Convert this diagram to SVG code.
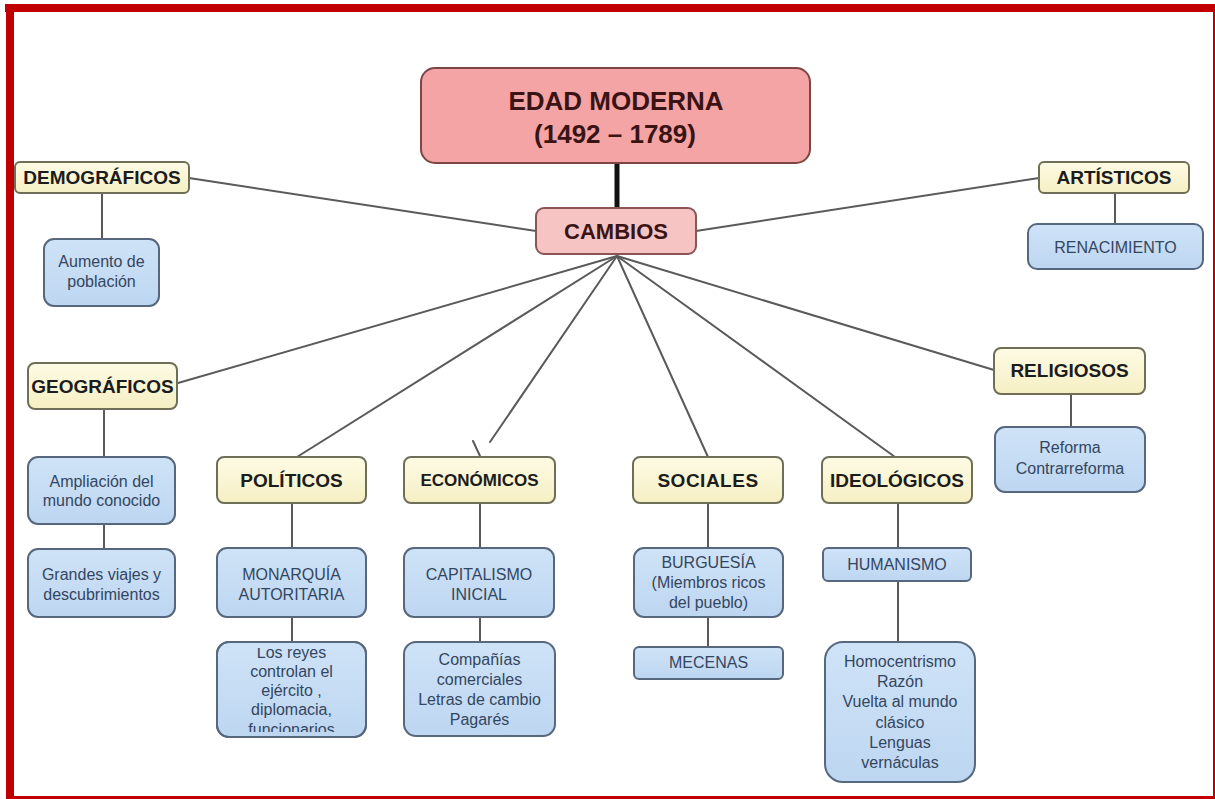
<svg xmlns="http://www.w3.org/2000/svg" width="1215" height="799" viewBox="0 0 1215 799">
<defs>
<linearGradient id="gY" x1="0" y1="0" x2="0" y2="1"><stop offset="0" stop-color="#fdfbe4"/><stop offset="1" stop-color="#f6efc4"/></linearGradient>
<linearGradient id="gB" x1="0" y1="0" x2="0" y2="1"><stop offset="0" stop-color="#cfe3f7"/><stop offset="1" stop-color="#bdd6f1"/></linearGradient>
<clipPath id="clipReyes"><rect x="218" y="648" width="147" height="84"/></clipPath>
<style>
.cat rect{fill:url(#gY);stroke:#6f6f58;stroke-width:2}
.cat text{font-family:"Liberation Sans",Arial,sans-serif;font-weight:bold;font-size:19px;fill:#1c1c1c;text-anchor:middle}
.leaf rect{fill:url(#gB);stroke:#56677e;stroke-width:2}
.leaf text{font-family:"Liberation Sans",Arial,sans-serif;font-size:16px;fill:#34465f;text-anchor:middle}
.conn line{stroke:#5a5a5a;stroke-width:2;stroke-linecap:round}
.title text{font-family:"Liberation Sans",Arial,sans-serif;font-weight:bold;fill:#3a1414;text-anchor:middle}
</style>
</defs>
<rect x="0" y="0" width="1215" height="799" fill="#ffffff"/>
<g id="frame" fill="#c00000">
<rect x="5" y="4" width="1210" height="8"/>
<rect x="6" y="4" width="8" height="795"/>
<rect x="1213" y="4" width="2" height="795"/>
<rect x="6" y="796" width="1209" height="3"/>
</g>
<g id="connectors" class="conn">
<line x1="617" y1="163" x2="617" y2="208" style="stroke:#111;stroke-width:5;stroke-linecap:butt"/>
<line x1="189" y1="178" x2="536" y2="231"/>
<line x1="1039" y1="178" x2="696" y2="231"/>
<line x1="617" y1="256" x2="178" y2="383"/>
<line x1="617" y1="256" x2="297" y2="457"/>
<line x1="617" y1="256" x2="490" y2="442"/>
<line x1="473" y1="441" x2="480" y2="456"/>
<line x1="617" y1="256" x2="708" y2="457"/>
<line x1="617" y1="256" x2="895" y2="457"/>
<line x1="617" y1="256" x2="994" y2="370"/>
<line x1="102" y1="193" x2="102" y2="239"/>
<line x1="1115" y1="193" x2="1115" y2="224"/>
<line x1="1071" y1="394" x2="1071" y2="427"/>
<line x1="104" y1="409" x2="104" y2="457"/>
<line x1="104" y1="524" x2="104" y2="549"/>
<line x1="292" y1="503" x2="292" y2="548"/>
<line x1="292" y1="617" x2="292" y2="642"/>
<line x1="480" y1="503" x2="480" y2="548"/>
<line x1="480" y1="617" x2="480" y2="642"/>
<line x1="708" y1="503" x2="708" y2="548"/>
<line x1="708" y1="617" x2="708" y2="647"/>
<line x1="898" y1="503" x2="898" y2="548"/>
<line x1="898" y1="581" x2="898" y2="642"/>
</g>
<g id="n-edad" class="title">
<rect x="421" y="68" width="389" height="95" rx="14" fill="#f4a4a4" stroke="#7e4545" stroke-width="2"/>
<text x="616" y="110" font-size="26">EDAD MODERNA</text>
<text x="615" y="143" font-size="26">(1492 – 1789)</text>
</g>
<g id="n-cambios" class="title">
<rect x="536" y="208" width="160" height="46" rx="8" fill="#f7c4c4" stroke="#8a5555" stroke-width="2"/>
<text x="616" y="239" font-size="22">CAMBIOS</text>
</g>
<g id="n-demograficos" class="cat"><rect x="15" y="162" width="174" height="31" rx="5"/><text x="102" y="184">DEMOGRÁFICOS</text></g>
<g id="n-artisticos" class="cat"><rect x="1039" y="162" width="150" height="31" rx="5"/><text x="1114" y="184">ARTÍSTICOS</text></g>
<g id="n-geograficos" class="cat"><rect x="28" y="363" width="149" height="46" rx="7"/><text x="102.5" y="393">GEOGRÁFICOS</text></g>
<g id="n-religiosos" class="cat"><rect x="994" y="348" width="151" height="46" rx="7"/><text x="1069.5" y="377">RELIGIOSOS</text></g>
<g id="n-politicos" class="cat"><rect x="217" y="457" width="149" height="46" rx="7"/><text x="291.5" y="487">POLÍTICOS</text></g>
<g id="n-economicos" class="cat"><rect x="404" y="457" width="151" height="46" rx="7"/><text x="479.5" y="486" style="font-size:17px">ECONÓMICOS</text></g>
<g id="n-sociales" class="cat"><rect x="633" y="457" width="150" height="46" rx="7"/><text x="708" y="487" style="letter-spacing:0.5px">SOCIALES</text></g>
<g id="n-ideologicos" class="cat"><rect x="822" y="457" width="150" height="46" rx="7"/><text x="897" y="487">IDEOLÓGICOS</text></g>
<g id="n-aumento" class="leaf"><rect x="44" y="239" width="115" height="67" rx="10"/><text x="101.5" y="267">Aumento de</text><text x="101.5" y="287">población</text></g>
<g id="n-renacimiento" class="leaf"><rect x="1028" y="224" width="175" height="45" rx="9"/><text x="1115.5" y="253">RENACIMIENTO</text></g>
<g id="n-reforma" class="leaf"><rect x="995" y="427" width="150" height="65" rx="10"/><text x="1070" y="453">Reforma</text><text x="1070" y="474">Contrarreforma</text></g>
<g id="n-ampliacion" class="leaf"><rect x="28" y="457" width="147" height="67" rx="10"/><text x="101.5" y="487">Ampliación del</text><text x="101.5" y="506">mundo conocido</text></g>
<g id="n-grandes" class="leaf"><rect x="28" y="549" width="147" height="68" rx="10"/><text x="101.5" y="580">Grandes viajes y</text><text x="101.5" y="600">descubrimientos</text></g>
<g id="n-monarquia" class="leaf"><rect x="217" y="548" width="149" height="69" rx="10"/><text x="291.5" y="580">MONARQUÍA</text><text x="291.5" y="600">AUTORITARIA</text></g>
<g id="n-reyes" class="leaf"><rect x="217" y="642" width="149" height="95" rx="12"/>
<g clip-path="url(#clipReyes)"><text x="291.5" y="658">Los reyes</text><text x="291.5" y="677">controlan el</text><text x="291.5" y="696">ejército ,</text><text x="291.5" y="715">diplomacia,</text><text x="291.5" y="735">funcionarios</text></g>
<rect x="217" y="642" width="149" height="95" rx="12" style="fill:none"/></g>
<g id="n-capitalismo" class="leaf"><rect x="404" y="548" width="150" height="69" rx="10"/><text x="479" y="580">CAPITALISMO</text><text x="479" y="600">INICIAL</text></g>
<g id="n-companias" class="leaf"><rect x="404" y="642" width="151" height="94" rx="12"/><text x="479.5" y="665">Compañías</text><text x="479.5" y="685">comerciales</text><text x="479.5" y="705">Letras de cambio</text><text x="479.5" y="725">Pagarés</text></g>
<g id="n-burguesia" class="leaf"><rect x="634" y="548" width="149" height="69" rx="10"/><text x="708.5" y="568">BURGUESÍA</text><text x="708.5" y="588">(Miembros ricos</text><text x="708.5" y="608">del pueblo)</text></g>
<g id="n-mecenas" class="leaf"><rect x="634" y="647" width="149" height="32" rx="5"/><text x="708.5" y="668">MECENAS</text></g>
<g id="n-humanismo" class="leaf"><rect x="823" y="548" width="148" height="33" rx="5"/><text x="897" y="570">HUMANISMO</text></g>
<g id="n-homocentrismo" class="leaf"><rect x="825" y="642" width="150" height="140" rx="18"/><text x="900" y="667">Homocentrismo</text><text x="900" y="687">Razón</text><text x="900" y="707">Vuelta al mundo</text><text x="900" y="728">clásico</text><text x="900" y="748">Lenguas</text><text x="900" y="768">vernáculas</text></g>
</svg>
